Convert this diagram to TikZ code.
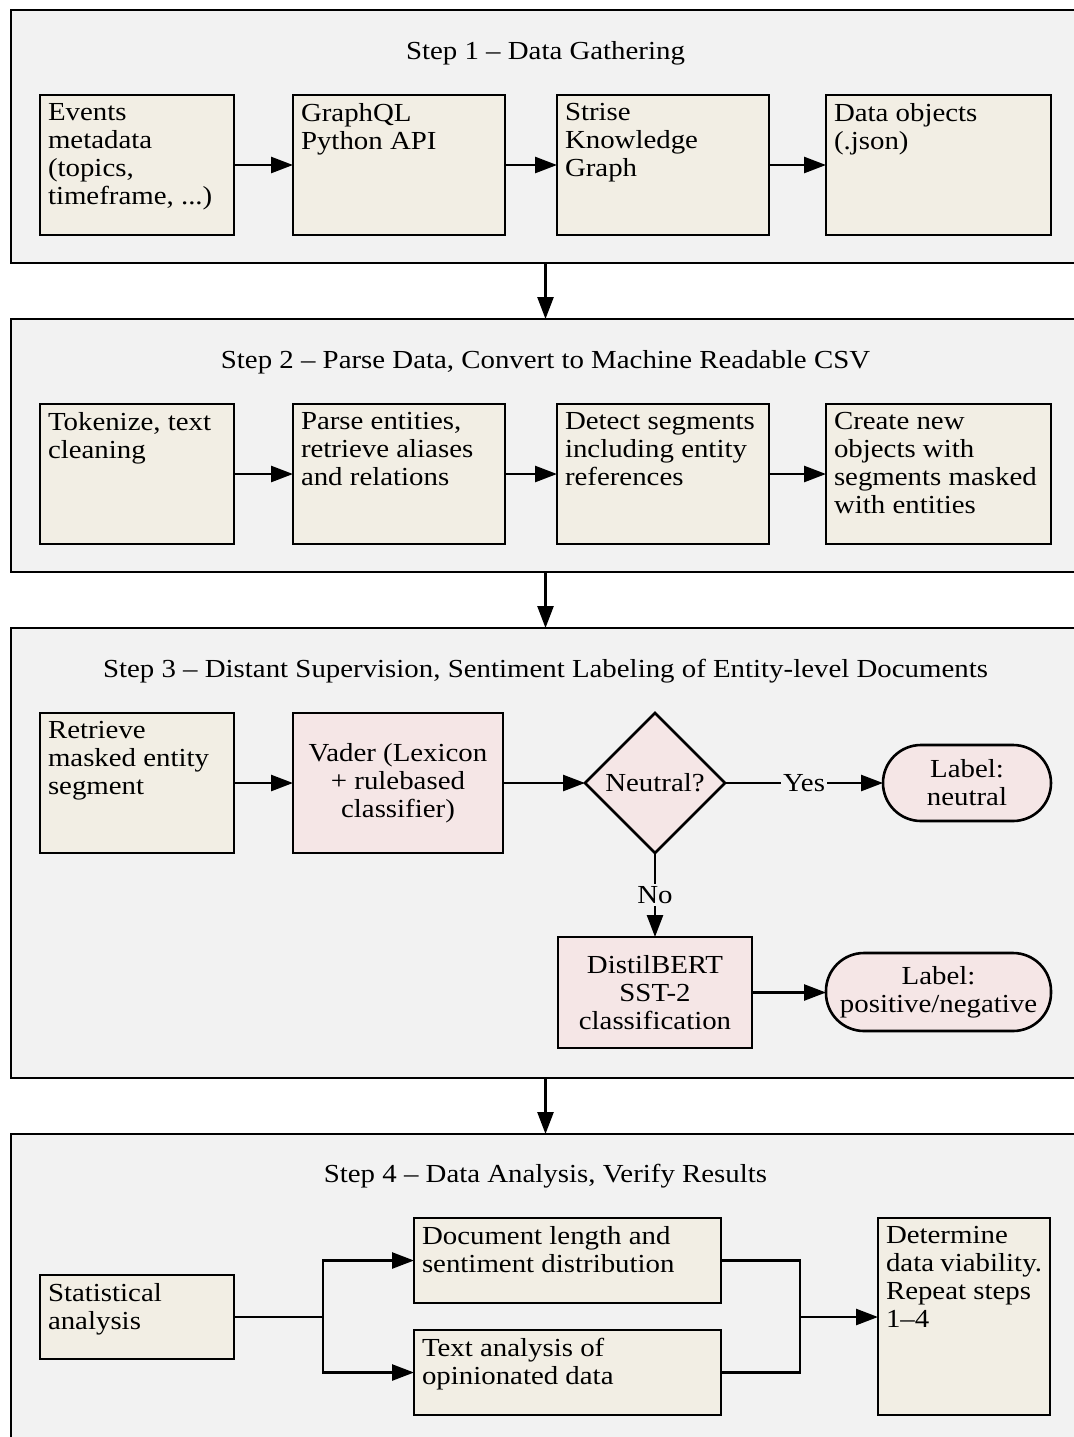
\documentclass[tikz,border=0pt]{standalone}
\usepackage{fontspec}
\setmainfont[FakeStretch=1.11]{Liberation Serif}
\usetikzlibrary{arrows.meta,shapes.geometric,calc}
\definecolor{framefill}{RGB}{242,242,242}
\definecolor{boxfill}{RGB}{242,238,228}
\definecolor{pinkfill}{RGB}{245,230,230}

% top-left aligned text block for a box of w x h pixels (1px = 0.5pt)
\newcommand{\celltext}[3]{\parbox[t][\dimexpr #2pt/2-8pt\relax][t]{\dimexpr #1pt/2-8pt\relax}{\raggedright #3}}
% \cellnode{name}{x}{y}{w}{h}{text}
\newcommand{\cellnode}[6]{\node[cellbox] (#1) at (#2,#3) {\celltext{#4}{#5}{#6}};}

\begin{document}
\begin{tikzpicture}[x=0.5pt,y=-0.5pt,line width=1.3pt,
  every node/.style={font=\fontsize{13pt}{14pt}\selectfont,outer sep=0pt},
  frame/.style={draw,fill=framefill,anchor=north west,inner sep=0pt,minimum width=540pt},
  title/.style={anchor=base,inner sep=0pt},
  cellbox/.style={draw,fill=boxfill,anchor=north west,inner xsep=4pt,inner ysep=4pt},
  pinkbox/.style={draw,fill=pinkfill,anchor=north west,inner sep=0pt,align=center},
  pill/.style={draw,fill=pinkfill,anchor=north west,inner sep=0pt,align=center,rounded corners=19pt},
  decision/.style={draw,fill=pinkfill,diamond,aspect=1,inner sep=0pt,minimum width=70pt,minimum height=70pt},
  flow/.style={-{Triangle[length=11pt,width=8pt]}},
  tag/.style={fill=framefill,inner sep=1pt}
]
\useasboundingbox (0,0) rectangle (1074,1437);

% ---------- stage frames (running off the right and bottom edges) ----------
\begin{scope}
\clip (0,0) rectangle (1074,1437);
\node[frame,minimum height=126.5pt] (f1) at (11,10) {};
\node[frame,minimum height=126.5pt] (f2) at (11,319) {};
\node[frame,minimum height=225pt] (f3) at (11,628) {};
\node[frame,minimum height=170pt] (f4) at (11,1134) {};
\end{scope}

% ---------- titles ----------
\node[title] (t1) at (545.5,59) {Step 1 – Data Gathering};
\node[title] (t2) at (545.5,368) {Step 2 – Parse Data, Convert to Machine Readable CSV};
\node[title] (t3) at (545.5,677) {Step 3 – Distant Supervision, Sentiment Labeling of Entity-level Documents};
\node[title] (t4) at (545.5,1182) {Step 4 – Data Analysis, Verify Results};

% ---------- step 1 ----------
\cellnode{a1}{40}{95}{194}{140}{Events\\metadata\\(topics,\\timeframe, ...)}
\cellnode{a2}{293}{95}{212}{140}{GraphQL\\Python API}
\cellnode{a3}{557}{95}{212}{140}{Strise\\Knowledge\\Graph}
\cellnode{a4}{826}{95}{225}{140}{Data objects\\(.json)}
\draw[flow] (a1) -- (a2);
\draw[flow] (a2) -- (a3);
\draw[flow] (a3) -- (a4);

% ---------- step 2 ----------
\cellnode{b1}{40}{404}{194}{140}{Tokenize, text\\cleaning}
\cellnode{b2}{293}{404}{212}{140}{Parse entities,\\retrieve aliases\\and relations}
\cellnode{b3}{557}{404}{212}{140}{Detect segments\\including entity\\references}
\cellnode{b4}{826}{404}{225}{140}{Create new\\objects with\\segments masked\\with entities}
\draw[flow] (b1) -- (b2);
\draw[flow] (b2) -- (b3);
\draw[flow] (b3) -- (b4);

% ---------- step 3 ----------
\cellnode{c1}{40}{713}{194}{140}{Retrieve\\masked entity\\segment}
\node[pinkbox,minimum width=105pt,minimum height=70pt] (vader) at (293,713) {Vader (Lexicon\\+ rulebased\\classifier)};
\node[decision] (neutral) at (655,783) {Neutral?};
\node[pill,minimum width=84pt,minimum height=38pt] (lneu) at (883,745) {Label:\\neutral};
\node[pinkbox,minimum width=97pt,minimum height=55.5pt] (bert) at (558,937) {DistilBERT\\SST-2\\classification};
\node[pill,minimum width=112.5pt,minimum height=39pt] (lpn) at (826,953) {Label:\\positive/negative};
\draw[flow] (c1.east) -- (c1.east -| vader.west);
\draw[flow] (vader.east |- neutral) -- (neutral.west);
\draw[flow] (neutral.east) -- node[tag] (yes) {Yes} (neutral.east -| lneu.west);
\draw[flow] (neutral.south) -- node[tag] (no) {No} (bert.north -| neutral);
\draw[flow] (bert.east) -- (bert.east -| lpn.west);

% ---------- step 4 ----------
\cellnode{d1}{40}{1275}{194}{84}{Statistical\\analysis}
\cellnode{d2}{414}{1218}{307}{85}{Document length and\\sentiment distribution}
\cellnode{d3}{414}{1330}{307}{85}{Text analysis of\\opinionated data}
\cellnode{d4}{878}{1218}{172}{197}{Determine\\data viability.\\Repeat steps\\1–4}
\coordinate (split) at (323,1317);
\coordinate (merge) at (800,1317);
\draw (d1.east) -- (split);
\draw[flow] (split) |- (d2.west);
\draw[flow] (split) |- (d3.west);
\draw (d2.east) -| (merge);
\draw (d3.east) -| (merge);
\draw[flow] (merge) -- (merge -| d4.west);

% ---------- links between stages ----------
\draw[flow] (t1 |- f1.south) -- (t1 |- f2.north);
\draw[flow] (t1 |- f2.south) -- (t1 |- f3.north);
\draw[flow] (t1 |- f3.south) -- (t1 |- f4.north);
\end{tikzpicture}
\end{document}
